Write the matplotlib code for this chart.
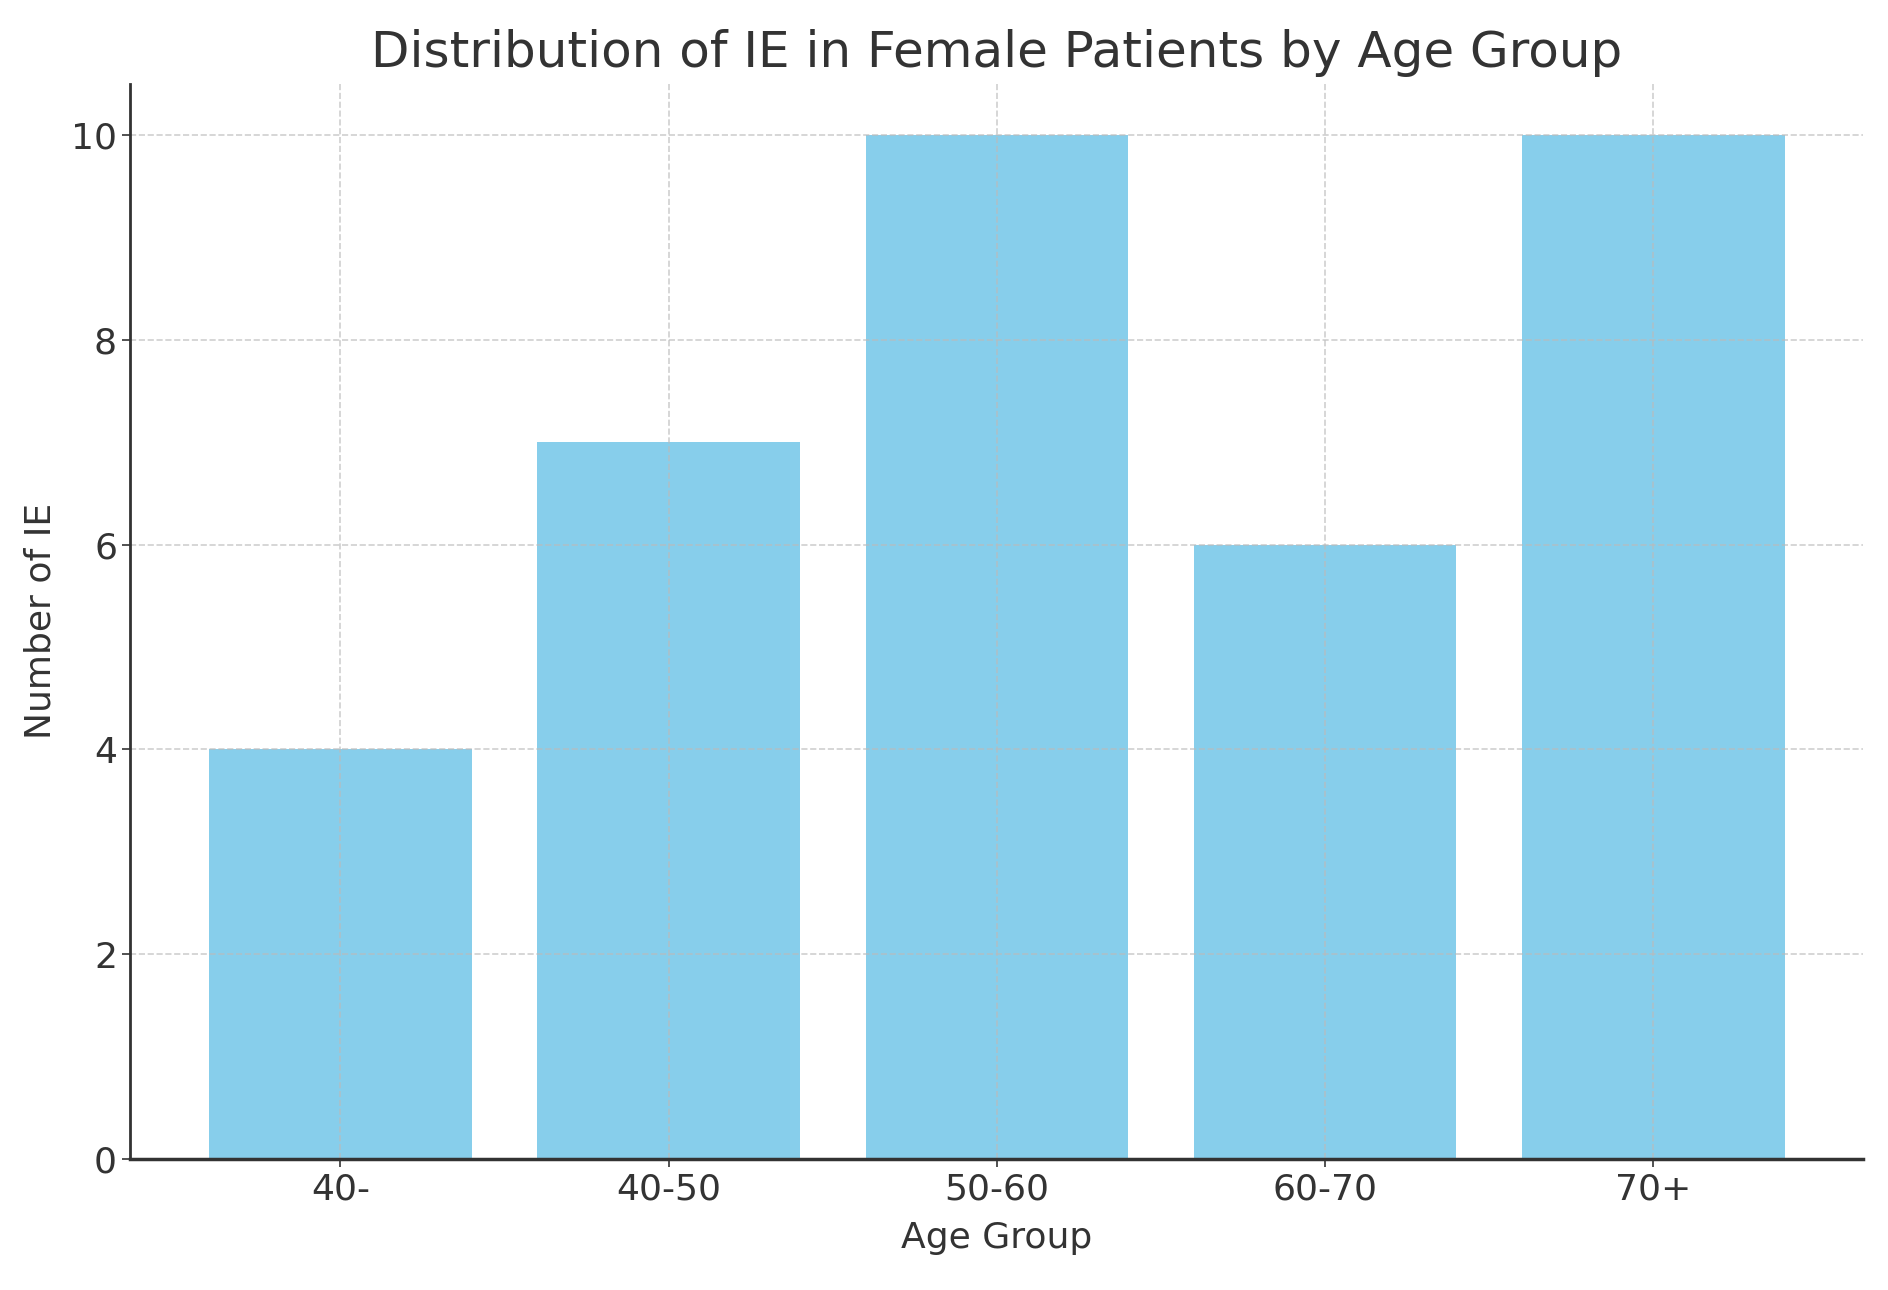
import matplotlib
matplotlib.use("Agg")
import matplotlib.pyplot as plt

# Data
age_groups = ["40-", "40-50", "50-60", "60-70", "70+"]
ie_counts = [4, 7, 10, 6, 10]

fig = plt.figure(figsize=(18.88, 12.9), dpi=100)
ax = fig.add_axes([0.069, 0.1016, 0.918, 0.8334])

ax.bar(age_groups, ie_counts, color="skyblue", width=0.8)

# Labels and title
ax.set_title("Distribution of IE in Female Patients by Age Group", fontsize=36, color="#333333", pad=12)
ax.set_xlabel("Age Group", fontsize=26, color="#333333", labelpad=11)
ax.set_ylabel("Number of IE", fontsize=26, color="#333333", labelpad=10)
ax.tick_params(axis="both", labelsize=26, colors="#333333", length=6, width=1.2)

ax.grid(True, linestyle="--", color="#bbbbbb", linewidth=1.2, alpha=0.7)

# only left and bottom spines
ax.spines["top"].set_visible(False)
ax.spines["right"].set_visible(False)
ax.spines["left"].set_linewidth(2)
ax.spines["bottom"].set_linewidth(2.5)
ax.spines["left"].set_color("#333333")
ax.spines["bottom"].set_color("#333333")

fig.savefig("out.png", dpi=100)
